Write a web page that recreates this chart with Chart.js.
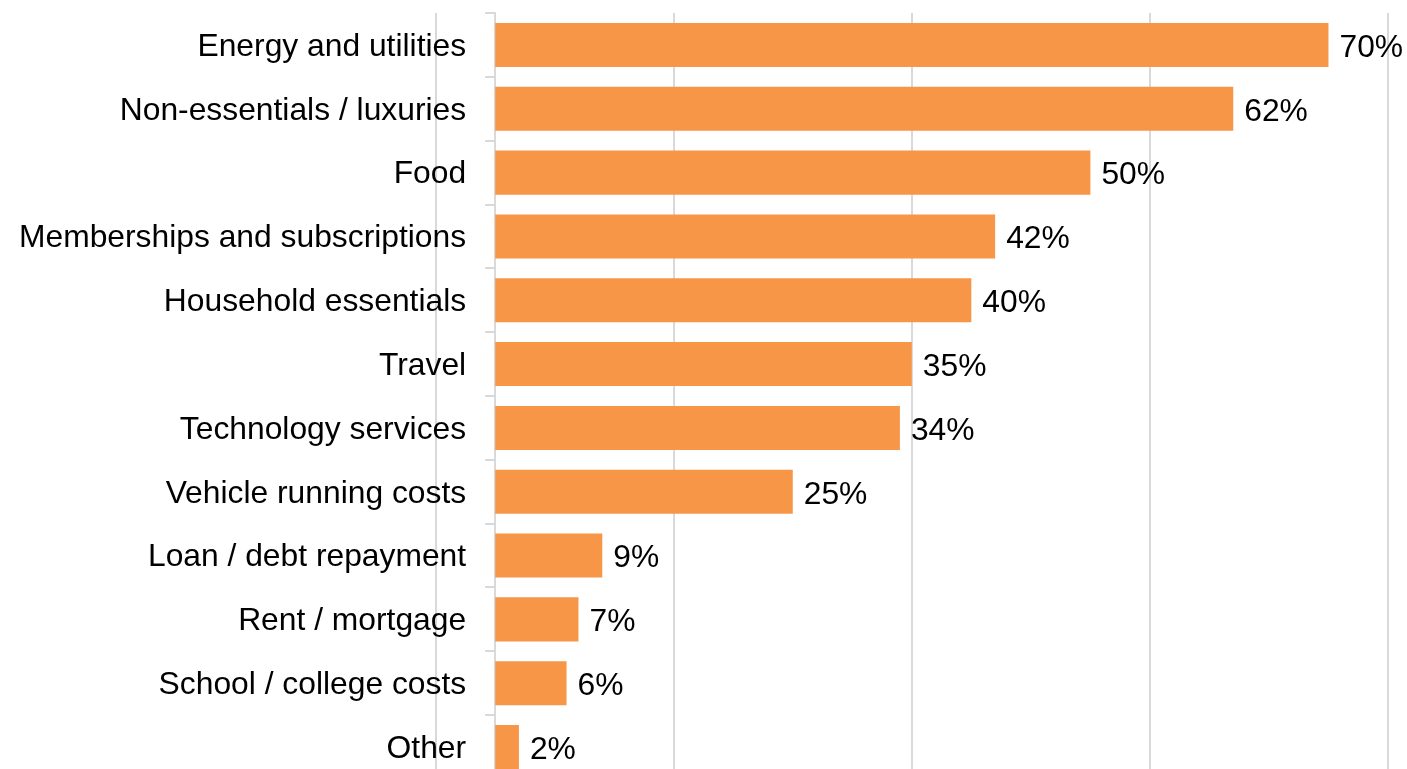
<!DOCTYPE html>
<html>
<head>
<meta charset="utf-8">
<script src="https://cdn.jsdelivr.net/npm/chart.js@4/dist/chart.umd.min.js"></script>
<style>
  html, body { margin: 0; padding: 0; background: #fff; overflow: hidden; }
  canvas { display: block; margin-top: -25px; }
</style>
</head>
<body>
<canvas id="myChart" width="1407" height="842"></canvas>
<script>
const categories = [
  'Energy and utilities',
  'Non-essentials / luxuries',
  'Food',
  'Memberships and subscriptions',
  'Household essentials',
  'Travel',
  'Technology services',
  'Vehicle running costs',
  'Loan / debt repayment',
  'Rent / mortgage',
  'School / college costs',
  'Other'
];
const shares = [70, 62, 50, 42, 40, 35, 34, 25, 9, 7, 6, 2];
const gridTicks = [-5, 15, 35, 55, 75];

const labelFont = { family: '"Liberation Sans", Arial, sans-serif', size: 31.8 };
const gridColor = '#d9d9d9';

// grid lines left of zero run behind the category labels
const outerGrid = {
  id: 'outerGrid',
  beforeDraw(chart) {
    const ctx = chart.ctx;
    const x = chart.scales.x;
    const area = chart.chartArea;
    ctx.save();
    ctx.strokeStyle = gridColor;
    ctx.lineWidth = 2;
    gridTicks.filter(v => v < x.min).forEach(v => {
      const px = Math.round(x.getPixelForValue(v));
      ctx.beginPath();
      ctx.moveTo(px, area.top);
      ctx.lineTo(px, area.bottom);
      ctx.stroke();
    });
    ctx.restore();
  }
};

// writes "NN%" just past the end of each bar
const barValues = {
  id: 'barValues',
  afterDatasetsDraw(chart) {
    const ctx = chart.ctx;
    const meta = chart.getDatasetMeta(0);
    ctx.save();
    ctx.font = labelFont.size + 'px ' + labelFont.family;
    ctx.fillStyle = '#000';
    ctx.textAlign = 'left';
    ctx.textBaseline = 'middle';
    meta.data.forEach((bar, i) => {
      ctx.fillText(shares[i] + '%', bar.x + 11, bar.y + 3);
    });
    ctx.restore();
  }
};

let ctx = document.getElementById('myChart');
let myBarChart = new Chart(ctx, {
  type: 'bar',
  data: {
    labels: categories,
    datasets: [{
      data: shares,
      backgroundColor: '#F79646',
      borderWidth: 0,
      barPercentage: 0.69,
      categoryPercentage: 1
    }]
  },
  options: {
    indexAxis: 'y',
    responsive: false,
    animation: false,
    layout: { padding: { top: 13, right: 19, bottom: 0, left: 0 } },
    plugins: {
      legend: { display: false },
      tooltip: { enabled: false }
    },
    scales: {
      x: {
        min: 0,
        max: 75,
        afterBuildTicks: (axis) => {
          axis.ticks = gridTicks.filter(v => v >= 0).map(v => ({ value: v }));
        },
        ticks: { display: false },
        grid: { color: gridColor, lineWidth: 2, drawTicks: false },
        border: { display: false }
      },
      y: {
        grid: {
          offset: true,
          drawOnChartArea: false,
          color: gridColor,
          lineWidth: 2,
          tickLength: 10
        },
        border: { color: gridColor, width: 2 },
        ticks: {
          color: '#000',
          padding: 19,
          labelOffset: 2,
          font: labelFont
        }
      }
    }
  },
  plugins: [outerGrid, barValues]
});
</script>
</body>
</html>
